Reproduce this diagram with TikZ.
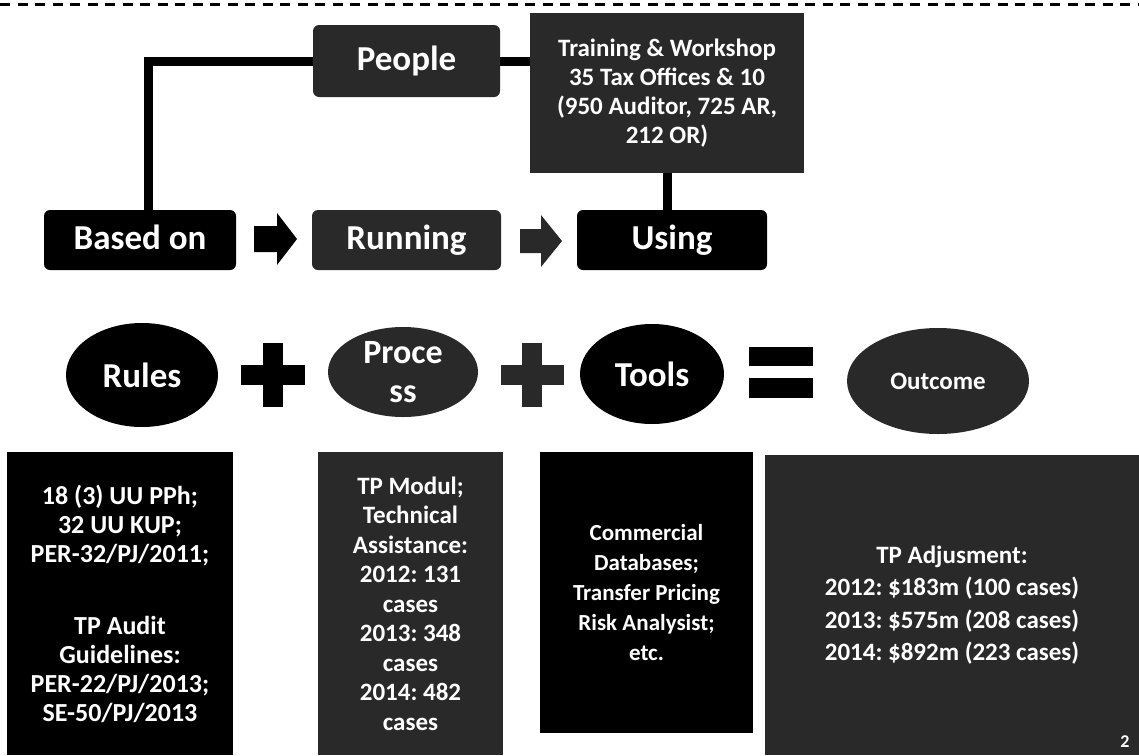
\documentclass[tikz,border=0pt]{standalone}
\usepackage{fontspec}
\setmainfont{Carlito}
\usetikzlibrary{shapes.geometric}
\definecolor{inkgray}{gray}{0.16}
\frenchspacing

\begin{document}
\begin{tikzpicture}[x=1pt,y=-1pt,
  every node/.style={inner sep=0pt, outer sep=0pt},
  pill/.style={rectangle, rounded corners=6pt, fill=black, text=white,
    text height=24pt, text depth=6pt,
    font=\fontsize{35}{40}\selectfont\bfseries},
  oval/.style={ellipse, fill=black, text=white, align=center,
    font=\fontsize{35}{40}\selectfont\bfseries},
  panel/.style={rectangle, fill=black, text=white, align=center},
  link/.style={line width=9pt, draw=black},
]
\useasboundingbox (0,0) rectangle (1139,755);

% dashed rule along the top edge
\draw[line width=3pt, dash pattern=on 10pt off 7.5pt] (0,4) -- (1139,4);

% top row: people and training
\node[pill, fill=inkgray, minimum width=187pt, minimum height=72pt] (people) at (406.5,61) {People};
\node[panel, fill=inkgray, minimum width=274pt, minimum height=160pt,
  font=\fontsize{25}{29}\selectfont\bfseries] (training) at (667,93)
  {Training \& Workshop\\35 Tax Offices \& 10\\(950 Auditor, 725 AR,\\212 OR)};

% second row: process chain
\node[pill, minimum width=192pt, minimum height=60pt] (based) at (140,240) {Based on};
\node[pill, fill=inkgray, minimum width=189pt, minimum height=60pt] (running) at (406.5,240) {Running};
\node[pill, minimum width=190pt, minimum height=60pt] (using) at (672,240) {Using};

% block arrows between the steps
\fill[black] (254,226) -- (277,226) -- (277,213) -- (297,239) -- (277,265) -- (277,252) -- (254,252) -- cycle;
\fill[inkgray] (520,229) -- (541,229) -- (541,215) -- (562,241) -- (541,267) -- (541,253) -- (520,253) -- cycle;

% connectors
\draw[link] (people.west) -| ([xshift=8pt]based.north);
\draw[link] (people.east) -- (people.east -| training.west);
\draw[link] (training.south) -- (training.south |- using.north);

% third row: equation of ovals
\node[oval, minimum width=152pt, minimum height=104pt] (rules) at (142,375) {Rules};
\node[oval, fill=inkgray, minimum width=150pt, minimum height=90pt,
  font=\fontsize{34}{39}\selectfont\bfseries] (process) at (403,372) {Proce\\ss};
\node[oval, minimum width=144pt, minimum height=100pt] (tools) at (652,374) {Tools};
\node[oval, fill=inkgray, minimum width=182pt, minimum height=106pt,
  font=\fontsize{25}{30}\selectfont\bfseries] (outcome) at (938,381) {Outcome};

% plus and equals signs
\fill[black] (263,343) rectangle (283,407);
\fill[black] (241,365) rectangle (305,385);
\fill[inkgray] (522,343) rectangle (542,407);
\fill[inkgray] (501,365) rectangle (564,385);
\fill[black] (749,347) rectangle (813,366);
\fill[black] (749,378) rectangle (813,398);

% bottom row: detail panels
\node[panel, minimum width=226pt, minimum height=303pt,
  font=\fontsize{26}{29}\selectfont\bfseries] (law) at (120,603.5)
  {18 (3) UU PPh;\\32 UU KUP;\\PER-32/PJ/2011;\\[43pt]TP Audit\\Guidelines:\\PER-22/PJ/2013;\\SE-50/PJ/2013};
\node[panel, fill=inkgray, minimum width=185pt, minimum height=303pt,
  font=\fontsize{25}{29.5}\selectfont\bfseries] (modul) at (410.5,603.5)
  {TP Modul;\\Technical\\Assistance:\\2012: 131\\cases\\2013: 348\\cases\\2014: 482\\cases};
\node[panel, minimum width=213pt, minimum height=281pt,
  font=\fontsize{23}{30}\selectfont\bfseries] (db) at (646.5,592.5)
  {Commercial\\Databases;\\Transfer Pricing\\Risk Analysist;\\etc.};
\node[panel, fill=inkgray, minimum width=374pt, minimum height=300pt,
  font=\fontsize{25}{32.5}\selectfont\bfseries] (adj) at (952,605)
  {TP Adjusment:\\2012: \$183m (100 cases)\\2013: \$575m (208 cases)\\2014: \$892m (223 cases)};

% slide number
\node[text=white, font=\fontsize{18}{18}\selectfont\bfseries] (pg) at (1125,742) {2};
\end{tikzpicture}
\end{document}
